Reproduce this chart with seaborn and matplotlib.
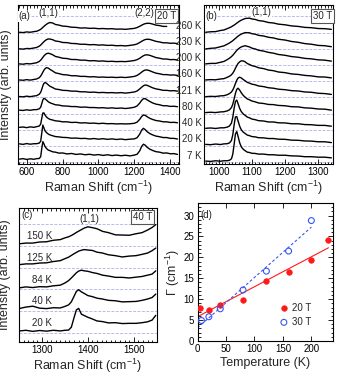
import numpy as np
import pandas as pd
import matplotlib
matplotlib.use('Agg')
import matplotlib.pyplot as plt
from matplotlib.ticker import MultipleLocator
import seaborn as sns

nan = np.nan

# ---- panel (a): 20 T spectra (offset by one unit each, 7 K at bottom)
shift_a = [560, 580, 600, 620, 640, 655, 670, 678, 684, 690, 696, 702, 710, 720, 730, 745,
           760, 780, 800, 825, 850, 875, 900, 925, 950, 975, 1000, 1025, 1050, 1075, 1100,
           1125, 1150, 1175, 1200, 1215, 1230, 1240, 1250, 1260, 1270, 1285, 1300, 1320,
           1340, 1360, 1380, 1400, 1420, 1440]
temps_a = ['7 K', '20 K', '40 K', '80 K', '121 K', '160 K', '200 K', '230 K', '260 K']
a_7K = [0.20, 0.23, 0.18, 0.22, 0.19, 0.23, 0.24, 0.35, 0.85, 1.28, 1.15, 0.98, 0.86, 0.76, 0.72, 0.65,
        0.63, 0.57, 0.58, 0.52, 0.55, 0.49, 0.52, 0.47, 0.50, 0.45, 0.48, 0.43, 0.47, 0.42, 0.45,
        0.41, 0.44, 0.40, 0.45, 0.50, 0.72, 0.98, 1.12, 1.06, 0.94, 0.82, 0.74, 0.66,
        0.63, 0.57, 0.58, 0.53, 0.54, 0.49]
a_20K = [0.14, 0.11, 0.16, 0.12, 0.15, 0.15, 0.19, 0.30, 0.80, 1.30, 1.12, 0.95, 0.84, 0.75, 0.69, 0.64,
         0.59, 0.57, 0.54, 0.53, 0.49, 0.50, 0.47, 0.48, 0.44, 0.47, 0.43, 0.46, 0.42, 0.45, 0.41,
         0.44, 0.40, 0.43, 0.45, 0.52, 0.75, 0.98, 1.10, 1.02, 0.90, 0.78, 0.70, 0.62,
         0.58, 0.53, 0.53, 0.48, 0.48, 0.44]
a_40K = [0.16, 0.18, 0.14, 0.19, 0.16, 0.20, 0.24, 0.36, 0.72, 1.04, 1.05, 0.92, 0.80, 0.71, 0.65, 0.61,
         0.56, 0.54, 0.50, 0.50, 0.46, 0.47, 0.43, 0.44, 0.41, 0.42, 0.39, 0.41, 0.38, 0.39, 0.37,
         0.38, 0.37, 0.38, 0.41, 0.48, 0.66, 0.82, 0.92, 0.90, 0.82, 0.72, 0.65, 0.58,
         0.55, 0.50, 0.50, 0.46, 0.47, 0.44]
a_80K = [0.22, 0.20, 0.24, 0.21, 0.25, 0.25, 0.30, 0.40, 0.62, 0.85, 0.95, 0.92, 0.84, 0.74, 0.67, 0.61,
         0.55, 0.53, 0.48, 0.47, 0.44, 0.44, 0.40, 0.41, 0.38, 0.38, 0.36, 0.37, 0.34, 0.36, 0.33,
         0.35, 0.32, 0.35, 0.40, 0.48, 0.66, 0.82, 0.92, 0.93, 0.86, 0.76, 0.67, 0.59,
         0.55, 0.49, 0.49, 0.45, 0.46, 0.43]
a_121K = [0.06, 0.04, 0.08, 0.05, 0.09, 0.11, 0.20, 0.32, 0.50, 0.72, 0.87, 0.92, 0.88, 0.78, 0.69, 0.61,
          0.52, 0.49, 0.44, 0.43, 0.39, 0.39, 0.35, 0.35, 0.32, 0.33, 0.30, 0.31, 0.29, 0.30, 0.28,
          0.30, 0.27, 0.30, 0.34, 0.40, 0.53, 0.63, 0.72, 0.77, 0.75, 0.68, 0.60, 0.53,
          0.49, 0.44, 0.44, 0.41, 0.42, 0.39]
a_160K = [0.08, 0.06, 0.10, 0.07, 0.11, 0.14, 0.22, 0.32, 0.43, 0.56, 0.68, 0.77, 0.84, 0.81, 0.73, 0.63,
          0.52, 0.47, 0.41, 0.39, 0.34, 0.34, 0.30, 0.30, 0.27, 0.28, 0.25, 0.26, 0.24, 0.25, 0.23,
          0.25, 0.23, 0.26, 0.30, 0.36, 0.47, 0.56, 0.64, 0.69, 0.70, 0.65, 0.58, 0.50,
          0.46, 0.41, 0.41, 0.38, 0.39, 0.36]
a_200K = [0.07, 0.05, 0.09, 0.07, 0.11, 0.14, 0.22, 0.30, 0.38, 0.47, 0.56, 0.63, 0.70, 0.73, 0.70, 0.63,
          0.53, 0.48, 0.42, 0.40, 0.34, 0.34, 0.30, 0.30, 0.26, 0.27, 0.24, 0.25, 0.22, 0.23, 0.21,
          0.22, 0.21, 0.24, 0.28, 0.33, 0.42, 0.50, 0.57, 0.62, 0.63, 0.60, 0.54, 0.46,
          0.42, 0.37, 0.37, 0.33, 0.34, 0.31]
a_230K = [0.00, -0.02, 0.02, 0.01, 0.05, 0.08, 0.16, 0.23, 0.30, 0.37, 0.44, 0.50, 0.56, 0.61, 0.60, 0.56,
          0.48, 0.45, 0.39, 0.38, 0.33, 0.32, 0.28, 0.28, 0.25, 0.26, 0.23, 0.24, 0.21, 0.22, 0.19,
          0.20, 0.18, 0.21, 0.25, 0.30, 0.39, 0.46, 0.52, 0.57, 0.59, 0.58, 0.53, 0.46,
          0.42, 0.37, 0.37, 0.34, 0.35, 0.32]
a_260K = [0.02, 0.00, 0.04, 0.02, 0.06, 0.08, 0.15, 0.20, 0.26, 0.32, 0.38, 0.44, 0.51, 0.58, 0.62, 0.59,
          0.50, 0.46, 0.40, 0.38, 0.33, 0.32, 0.28, 0.29, 0.26, 0.27, 0.24, 0.25, 0.23, 0.24, 0.21,
          0.22, 0.20, 0.23, 0.26, 0.31, 0.39, 0.45, 0.51, 0.55, 0.57, 0.57, 0.53, 0.46,
          0.43, 0.38, 0.38, nan, nan, nan]

# ---- panel (b): 30 T spectra
shift_b = [960, 975, 990, 1005, 1015, 1025, 1032, 1038, 1042, 1046, 1050, 1054, 1058, 1063, 1068,
           1074, 1080, 1086, 1092, 1100, 1110, 1120, 1135, 1150, 1165, 1180, 1200, 1220, 1240,
           1260, 1280, 1300, 1320, 1340]
b_7K = [0.08, 0.06, 0.10, 0.07, 0.10, 0.10, 0.13, 0.22, 0.50, 1.10, 1.75, 1.90, 1.60, 1.20, 0.95,
        0.80, 0.71, 0.63, 0.61, 0.56, 0.55, 0.51, 0.51, 0.47, 0.47, 0.44, 0.44, 0.40, 0.39,
        0.35, 0.35, 0.32, 0.32, 0.28]
b_20K = [0.11, 0.09, 0.13, 0.10, 0.14, 0.15, 0.20, 0.35, 0.70, 1.30, 1.80, 1.82, 1.55, 1.22, 1.00,
         0.86, 0.77, 0.68, 0.65, 0.59, 0.57, 0.52, 0.51, 0.47, 0.47, 0.43, 0.42, 0.37, 0.36,
         0.32, 0.31, 0.27, 0.27, 0.22]
b_40K = [0.10, 0.12, 0.09, 0.13, 0.13, 0.17, 0.24, 0.42, 0.78, 1.32, 1.75, 1.84, 1.62, 1.32, 1.12,
         0.98, 0.89, 0.79, 0.75, 0.67, 0.63, 0.57, 0.55, 0.49, 0.49, 0.44, 0.43, 0.38, 0.38,
         0.33, 0.32, 0.28, 0.28, 0.23]
b_80K = [0.07, 0.09, 0.07, 0.11, 0.12, 0.17, 0.24, 0.38, 0.58, 0.90, 1.25, 1.50, 1.57, 1.45, 1.28,
         1.12, 1.01, 0.91, 0.86, 0.78, 0.73, 0.66, 0.63, 0.57, 0.56, 0.51, 0.49, 0.43, 0.42,
         0.36, 0.34, 0.29, 0.28, 0.22]
b_121K = [0.05, 0.07, 0.06, 0.10, 0.11, 0.17, 0.24, 0.34, 0.46, 0.64, 0.86, 1.06, 1.20, 1.25, 1.20,
          1.10, 1.02, 0.93, 0.89, 0.82, 0.78, 0.71, 0.67, 0.60, 0.57, 0.51, 0.48, 0.42, 0.40,
          0.34, 0.32, 0.26, 0.24, 0.19]
b_160K = [0.08, 0.10, 0.09, 0.14, 0.16, 0.24, 0.31, 0.40, 0.50, 0.63, 0.80, 0.96, 1.10, 1.20, 1.26,
          1.25, 1.19, 1.09, 1.04, 0.96, 0.91, 0.83, 0.78, 0.69, 0.65, 0.57, 0.53, 0.45, 0.42,
          0.36, 0.33, 0.27, 0.26, 0.21]
b_200K = [0.07, 0.10, 0.10, 0.17, 0.22, 0.33, 0.42, 0.52, 0.60, 0.70, 0.80, 0.90, 0.98, 1.06, 1.12,
          1.16, 1.19, 1.15, 1.12, 1.04, 0.99, 0.91, 0.86, 0.78, 0.73, 0.65, 0.60, 0.52, 0.48,
          0.41, 0.38, 0.32, 0.30, 0.24]
b_230K = [-0.01, 0.03, 0.05, 0.13, 0.18, 0.28, 0.36, 0.44, 0.50, 0.57, 0.64, 0.71, 0.78, 0.85, 0.91,
          0.96, 1.00, 0.99, 0.99, 0.93, 0.90, 0.83, 0.79, 0.71, 0.67, 0.59, 0.54, 0.45, 0.40,
          0.32, 0.28, 0.21, 0.19, 0.13]
b_260K = [0.02, 0.05, 0.06, 0.13, 0.16, 0.24, 0.30, 0.36, 0.41, 0.46, 0.52, 0.58, 0.64, 0.71, 0.77,
          0.82, 0.87, 0.88, 0.89, 0.84, 0.81, 0.74, 0.70, 0.62, 0.59, 0.52, 0.48, 0.41, 0.38,
          0.32, 0.30, 0.25, 0.24, 0.20]

# ---- panel (c): 40 T spectra
shift_c = [1252, 1265, 1280, 1295, 1310, 1325, 1340, 1350, 1358, 1364, 1370, 1375, 1380, 1386,
           1392, 1400, 1410, 1420, 1432, 1445, 1460, 1475, 1490, 1505, 1518, 1530, 1540, 1548]
temps_c = ['20 K', '40 K', '84 K', '125 K', '150 K']
c_20K = [0.08, 0.11, 0.06, 0.10, 0.07, 0.11, 0.08, 0.11, 0.12, 0.25, 0.70, 1.05, 1.12, 0.85,
         0.79, 0.71, 0.63, 0.54, 0.51, 0.45, 0.46, 0.42, 0.43, 0.43, 0.46, 0.50, 0.58, 0.80]
c_40K = [0.12, 0.18, 0.22, 0.13, 0.11, 0.15, 0.14, 0.21, 0.28, 0.42, 0.68, 0.90, 0.98, 0.88,
         0.81, 0.71, 0.66, 0.59, 0.55, 0.49, 0.47, 0.42, 0.43, 0.44, 0.49, 0.55, 0.62, 0.78]
c_84K = [0.07, 0.11, 0.08, 0.12, 0.11, 0.16, 0.19, 0.29, 0.40, 0.52, 0.65, 0.76, 0.84, 0.88,
         0.85, 0.83, 0.77, 0.73, 0.65, 0.61, 0.55, 0.55, 0.52, 0.56, 0.59, 0.65, 0.70, 0.85]
c_125K = [0.14, 0.17, 0.17, 0.21, 0.22, 0.28, 0.32, 0.41, 0.48, 0.56, 0.64, 0.70, 0.76, 0.80,
          0.83, 0.81, 0.79, 0.71, 0.67, 0.59, 0.55, 0.49, 0.53, 0.55, 0.61, 0.67, 0.78, 0.90]
c_150K = [0.10, 0.13, 0.13, 0.18, 0.19, 0.26, 0.29, 0.37, 0.42, 0.48, 0.55, 0.62, 0.68, 0.75,
          0.82, 0.88, 0.84, 0.79, 0.67, 0.61, 0.51, 0.50, 0.49, 0.56, 0.61, 0.73, 0.85, 0.98]

# ---- panel (d): linewidth vs temperature
temp_20T = [5, 20, 40, 80, 121, 160, 200, 230]
gamma_20T = [7.8, 7.4, 8.5, 9.7, 14.4, 16.4, 19.4, 24.2]
temp_30T = [7, 20, 40, 80, 121, 160, 200]
gamma_30T = [4.9, 5.8, 7.7, 12.2, 16.7, 21.5, 28.8]

sns.set_style("ticks")
plt.rcParams['font.family'] = ['Liberation Sans', 'DejaVu Sans']
plt.rcParams['mathtext.default'] = 'regular'

base_col = '#b3bbf2'
red = '#ff1a1a'
blue = '#3556f5'

fig = plt.figure(figsize=(3.37, 3.74), dpi=100)
W, H = 337.0, 374.0
ax_a = fig.add_axes([17.7 / W, 1 - 164 / H, 161.6 / W, 159 / H])
ax_b = fig.add_axes([204 / W, 1 - 164 / H, 129 / W, 159 / H])
ax_c = fig.add_axes([19 / W, 1 - 342 / H, 137.7 / W, 134.5 / H])
ax_d = fig.add_axes([197.5 / W, 1 - 341 / H, 135.5 / W, 138 / H])


def frame(ax, major, minor, spectra=True):
    for sp in ax.spines.values():
        sp.set_visible(True)
        sp.set_linewidth(0.8)
        sp.set_color('k')
    ax.xaxis.set_major_locator(MultipleLocator(major))
    ax.xaxis.set_minor_locator(MultipleLocator(minor))
    ax.tick_params(axis='both', which='both', direction='in', top=True, right=True,
                   labelsize=7, width=0.6, colors='k', pad=2.5)
    ax.tick_params(which='major', length=3.5)
    ax.tick_params(which='minor', length=1.8)
    if spectra:
        ax.set_yticks([])
        ax.tick_params(axis='y', which='both', left=False, right=False)


def spectra(ax, shift, traces, nlines):
    for k in range(nlines):
        ax.axhline(k, color=base_col, lw=0.7, ls=(0, (3, 1.5)), zorder=0)
    for k, s in enumerate(traces):
        df = pd.DataFrame({'shift': shift, 'I': np.array(s) + k})
        sns.lineplot(data=df, x='shift', y='I', ax=ax, color='k', lw=1.0,
                     estimator=None, sort=False)


box = dict(boxstyle='square,pad=0.2', fc='white', ec='#555555', lw=0.8)
wbg = dict(boxstyle='square,pad=0.05', fc='white', ec='none')

# (a)
spectra(ax_a, shift_a, [a_7K, a_20K, a_40K, a_80K, a_121K, a_160K, a_200K, a_230K, a_260K], 10)
ax_a.set_xlim(550, 1450)
ax_a.set_ylim(-0.1, 9.7)
frame(ax_a, 200, 20)
ax_a.text(587, 9.0, '(a)', fontsize=7, ha='center', va='center', bbox=wbg)
ax_a.text(720, 9.2, '(1,1)', fontsize=7, ha='center', va='center', bbox=wbg)
ax_a.text(1254, 9.2, '(2,2)', fontsize=7, ha='center', va='center', bbox=wbg)
ax_a.text(1381, 9.0, '20 T', fontsize=7, ha='center', va='center', bbox=box)
ax_a.set_xlabel('Raman Shift (cm$^{-1}$)', fontsize=9, labelpad=1)
ax_a.set_ylabel('Intensity (arb. units)', fontsize=9)
ax_a.yaxis.set_label_coords(-0.035, 0.5)

# (b)
spectra(ax_b, shift_b, [b_7K, b_20K, b_40K, b_80K, b_121K, b_160K, b_200K, b_230K, b_260K], 10)
ax_b.set_xlim(955, 1345)
ax_b.set_ylim(-0.1, 9.7)
frame(ax_b, 100, 10)
ax_b.text(976, 9.0, '(b)', fontsize=7, ha='center', va='center', bbox=wbg)
ax_b.text(1128, 9.25, '(1,1)', fontsize=7, ha='center', va='center', bbox=wbg)
ax_b.text(1313, 9.0, '30 T', fontsize=7, ha='center', va='center', bbox=box)
ax_b.set_xlabel('Raman Shift (cm$^{-1}$)', fontsize=9, labelpad=1)
ax_b.set_ylabel('')
for k, t in enumerate(temps_a):
    ax_b.text(-0.018, k + 0.42, t, fontsize=7, ha='right', va='center',
              transform=ax_b.get_yaxis_transform())

# (c)
spectra(ax_c, shift_c, [c_20K, c_40K, c_84K, c_125K, c_150K], 6)
ax_c.set_xlim(1250, 1550)
ax_c.set_ylim(-0.43, 5.77)
frame(ax_c, 100, 10)
ax_c.text(1267, 5.42, '(c)', fontsize=7, ha='center', va='center')
ax_c.text(1403, 5.26, '(1,1)', fontsize=7, ha='center', va='center')
ax_c.text(1519, 5.34, '40 T', fontsize=7, ha='center', va='center', bbox=box)
for k, t in enumerate(temps_c):
    ax_c.text(1322, k + 0.45, t, fontsize=7, ha='right', va='center')
ax_c.set_xlabel('Raman Shift (cm$^{-1}$)', fontsize=9, labelpad=1)
ax_c.set_ylabel('Intensity (arb. units)', fontsize=9)
ax_c.yaxis.set_label_coords(-0.055, 0.5)

# (d)
fit20 = np.polyfit(temp_20T, gamma_20T, 1)
fit30 = np.polyfit(temp_30T, gamma_30T, 1)
line20 = pd.DataFrame({'T': [0, 230], 'G': np.polyval(fit20, [0, 230])})
line30 = pd.DataFrame({'T': [0, 200], 'G': np.polyval(fit30, [0, 200])})
sns.lineplot(data=line20, x='T', y='G', ax=ax_d, color=red, lw=0.8)
sns.lineplot(data=line30, x='T', y='G', ax=ax_d, color=blue, lw=0.8, ls=(0, (2.5, 2)))
sns.scatterplot(x=temp_20T, y=gamma_20T, ax=ax_d, color=red, edgecolor=red, s=16,
                linewidth=0.5, label='20 T', zorder=3)
sns.scatterplot(x=temp_30T, y=gamma_30T, ax=ax_d, marker='o', facecolor='none',
                edgecolor=blue, s=18, linewidth=0.8, label='30 T', zorder=3)
ax_d.set_xlim(0, 238)
ax_d.set_ylim(0, 33)
frame(ax_d, 50, 50, spectra=False)
ax_d.yaxis.set_major_locator(MultipleLocator(5))
ax_d.yaxis.set_minor_locator(MultipleLocator(1))
ax_d.text(15, 30.2, '(d)', fontsize=7, ha='center', va='center')
ax_d.set_xlabel('Temperature (K)', fontsize=9, labelpad=2)
ax_d.set_ylabel('Γ (cm$^{-1}$)', fontsize=9, labelpad=1)
ax_d.legend(loc='lower right', bbox_to_anchor=(0.88, 0.06), frameon=False, fontsize=7,
            handletextpad=0.2, labelspacing=0.4, borderaxespad=0.2, handlelength=1.2)

fig.savefig('out.png', dpi=100)
